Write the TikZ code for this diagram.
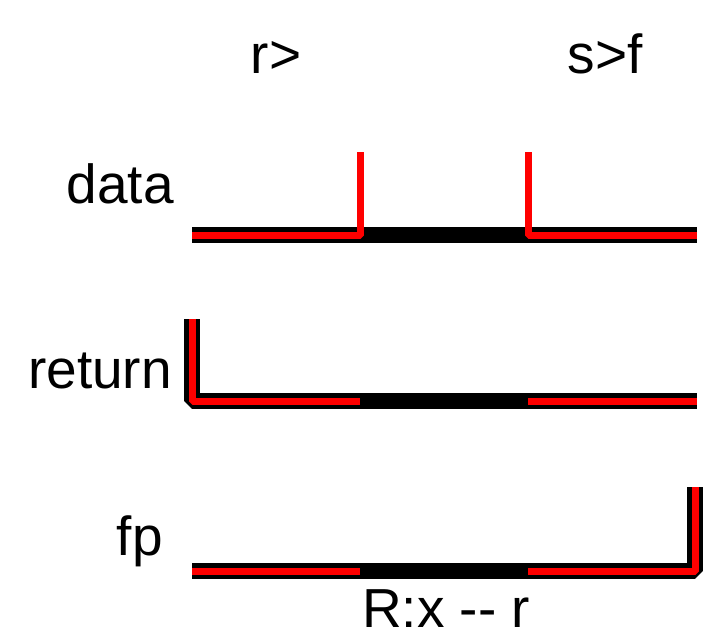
\documentclass[tikz,border=0pt]{standalone}
\usepackage{fontspec}
\setmainfont{Liberation Sans}
\begin{document}
\begin{tikzpicture}[x=1pt,y=-1pt,
  lbl/.style={inner sep=0pt,font=\fontsize{55}{66}\selectfont},
  blk/.style={line width=16pt,black,line join=bevel,line cap=butt},
  rd/.style={line width=7pt,red,line join=bevel,line cap=butt}]
\useasboundingbox (0,0) rectangle (704,643);
% labels
\node[lbl,anchor=base] (lr) at (276,73) {r>};
\node[lbl,anchor=base] (ls) at (605,73) {s>f};
\node[lbl,anchor=base east] (ldata) at (174,203) {data};
\node[lbl,anchor=base east] (lret) at (172,388) {return};
\node[lbl,anchor=base east] (lfp) at (163,555) {fp};
\node[lbl,anchor=base,text depth=0pt] (lrx) at (446,627) {R:x -{}- r};
% coordinates
\coordinate (d0) at (192,235); \coordinate (d1) at (360,235); \coordinate (d1t) at (360,152);
\coordinate (d2t) at (528,152); \coordinate (d2) at (528,235); \coordinate (d3) at (697,235);
\coordinate (r0t) at (192,319); \coordinate (r0) at (192,401); \coordinate (r1) at (360,401);
\coordinate (r2) at (528,401); \coordinate (r3) at (697,401);
\coordinate (f0) at (192,571); \coordinate (f1) at (360,571); \coordinate (f2) at (528,571);
\coordinate (f3) at (695,571); \coordinate (f3t) at (695,487);
% data
\draw[blk] (d0) -- (d3);
\draw[rd] (d0) -- (d1) -- (d1t);
\draw[rd] (d2t) -- (d2) -- (d3);
% return
\draw[blk] (r0t) -- (r0) -- (r3);
\draw[rd] (r0t) -- (r0) -- (r1);
\draw[rd] (r2) -- (r3);
% fp
\draw[blk] (f0) -- (f3) -- (f3t);
\draw[rd] (f0) -- (f1);
\draw[rd] (f2) -- (f3) -- (f3t);
\end{tikzpicture}
\end{document}
